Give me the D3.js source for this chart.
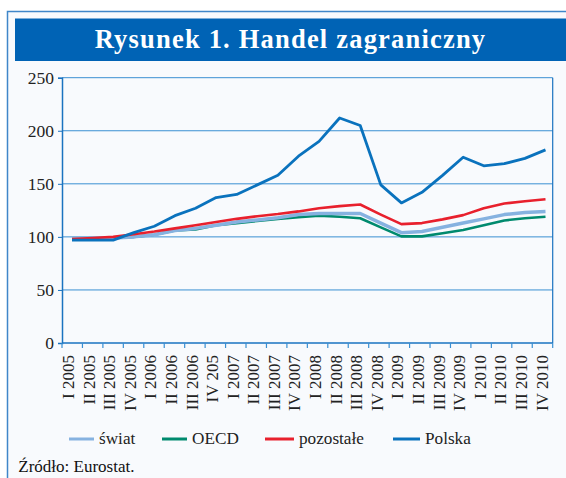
<!DOCTYPE html>
<html><head><meta charset="utf-8">
<script src="https://cdn.jsdelivr.net/npm/d3@7"></script>
<style>html,body{margin:0;padding:0;background:#fff;}svg{display:block;}</style>
</head><body>
<script>
const categories = ["I 2005","II 2005","III 2005","IV 2005","I 2006","II 2006","III 2006","IV 205","I 2007","II 2007","III 2007","IV 2007","I 2008","II 2008","III 2008","IV 2008","I 2009","II 2009","III 2009","IV 2009","I 2010","II 2010","III 2010","IV 2010"];
const swiat =     [98,98,99,100,102,106,108,111,114,116,118,121,122,122,122,113,104,105,109,113,117,121,123,124];
const oecd =      [98,98,99,100,102,106,107,111,113,115,117,118.5,120,119,117.5,109,100.5,100.5,103.5,106.5,111,115.5,117.5,119];
const pozostale = [98,99,100,102.5,105,108,111,114,117,119.5,121.5,124,127,129,130.5,121,112,113,116.5,120.5,127,131.5,133.5,135.5];
const polska =    [97,97,97,104,110,120,127,137,140,149,158,176,190,212,205,149,132,142,158,175,167,169,174,182];
const yTicks = [0,50,100,150,200,250];
const seriesNames = ["świat","OECD","pozostałe","Polska"];

const W = 566, H = 478;
const svg = d3.select("body").append("svg").attr("width", W).attr("height", H);
const serif = "'Liberation Serif','DejaVu Serif',serif";

// page background and frame
svg.append("rect").attr("x",0).attr("y",0).attr("width",W).attr("height",H).attr("fill","#ffffff");
svg.append("rect").attr("x",7.5).attr("y",11.5).attr("width",W).attr("height",H).attr("fill","#f8fafd").attr("stroke","#3f86c9").attr("stroke-width",1.5);
svg.append("rect").attr("x",15).attr("y",18.5).attr("width",W).attr("height",42.5).attr("fill","#0063b5");
svg.append("text").attr("x",290.5).attr("y",47.7).attr("text-anchor","middle").attr("fill","#ffffff")
  .style("font-family",serif).style("font-weight","bold").style("font-size","26.5px").style("letter-spacing","1.2px")
  .text("Rysunek 1. Handel zagraniczny");

const x0 = 62, x1 = 552.7, yTop = 77.7, yBot = 343;
const y = d3.scaleLinear().domain([0,250]).range([yBot,yTop]);
const xb = d3.scaleBand().domain(categories).range([x0,x1]);
const xp = d3.scalePoint().domain(categories).range([72,545.5]);

// grid
const g = svg.append("g");
g.selectAll("line.grid").data(yTicks.filter(d=>d>0)).enter().append("line")
  .attr("x1",x0).attr("x2",x1).attr("y1",d=>y(d)).attr("y2",d=>y(d))
  .attr("stroke","#3a8fd2").attr("stroke-width",1);
// right border
g.append("line").attr("x1",x1).attr("x2",x1).attr("y1",yTop).attr("y2",yBot).attr("stroke","#1a73c0").attr("stroke-width",1.2);

// y axis
const yAxis = svg.append("g").attr("transform",`translate(${x0},0)`)
  .call(d3.axisLeft(y).tickValues(yTicks).tickSize(4).tickPadding(4));
yAxis.select(".domain").attr("stroke","#1a73c0").attr("stroke-width",1.5);
yAxis.selectAll(".tick line").attr("stroke","#1a73c0");
yAxis.selectAll("text").style("font-family",serif).style("font-size","17.5px").attr("fill","#222");

// x axis
const xAxisG = svg.append("g").attr("transform",`translate(0,${yBot})`);
xAxisG.append("line").attr("x1",x0).attr("x2",x1).attr("y1",0).attr("y2",0).attr("stroke","#1a73c0").attr("stroke-width",1.5);
const bounds = categories.map(c=>xb(c)).concat([x1]);
xAxisG.selectAll("line.t").data(bounds).enter().append("line")
  .attr("x1",d=>d).attr("x2",d=>d).attr("y1",0).attr("y2",5).attr("stroke","#3a8fd2").attr("stroke-width",1.2);
xAxisG.selectAll("text").data(categories).enter().append("text")
  .attr("transform",d=>`translate(${xp(d)+2},${12}) rotate(-90)`)
  .attr("text-anchor","end")
  .style("font-family",serif).style("font-size","17px").attr("fill","#222").text(d=>d);

// lines
const line = d3.line().x((d,i)=>xp(categories[i])).y(d=>y(d));
const series = [
  {name:"świat", data:swiat, color:"#86b2e0", w:3.5},
  {name:"OECD", data:oecd, color:"#008a6e", w:2.6},
  {name:"pozostałe", data:pozostale, color:"#e8202d", w:2.6},
  {name:"Polska", data:polska, color:"#0a72bd", w:2.8}
];
[series[1],series[0],series[2],series[3]].forEach(s=>{
  svg.append("path").datum(s.data).attr("d",line).attr("fill","none")
    .attr("stroke",s.color).attr("stroke-width",s.w).attr("stroke-linejoin","round");
});

// legend
const legX = [69,162,265,393];
const legW = [25,25,29,27];
const lg = svg.append("g");
series.forEach((s,i)=>{
  lg.append("line").attr("x1",legX[i]).attr("x2",legX[i]+legW[i]).attr("y1",439).attr("y2",439)
    .attr("stroke",s.color).attr("stroke-width",3);
  lg.append("text").attr("x",legX[i]+legW[i]+5).attr("y",444).style("font-family",serif).style("font-size","17.2px")
    .attr("fill","#222").text(seriesNames[i]);
});

svg.append("text").attr("x",18.3).attr("y",472).style("font-family",serif).style("font-size","17px")
  .attr("fill","#111").text("Źródło: Eurostat.");
</script>
</body></html>
